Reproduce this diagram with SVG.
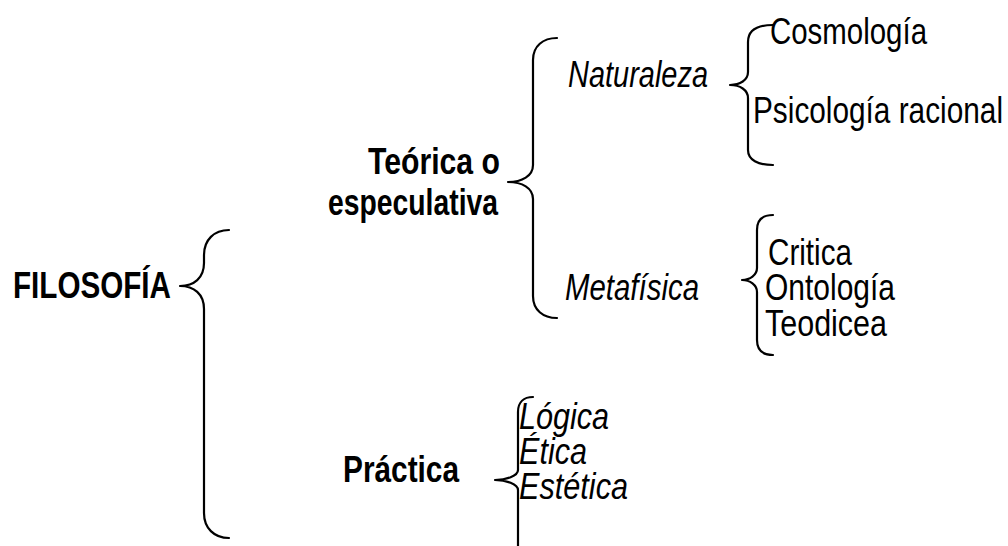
<svg xmlns="http://www.w3.org/2000/svg" width="1008" height="546" viewBox="0 0 1008 546">
<style>
.t{font-family:"Liberation Sans Narrow","Liberation Sans",Arial,sans-serif;font-size:36px;fill:#000}
.b{font-weight:bold}
.i{font-style:italic}
.br{fill:none;stroke:#000;stroke-width:2.2;stroke-linecap:round;stroke-linejoin:round}
</style>
<rect width="1008" height="546" fill="#fff"/>
<g id="connectors">
<path class="br" d="M229,230 C214,230 204,240 204,255 L204,263 C204,278 194,286 180,286 C194,286 204,294 204,309 L204,513 C204,528 214,538 229,538"/>
<path class="br" d="M557,38 C543,38 533,46 533,60 L533,165 C533,176 522,182 508,182 C522,182 533,188 533,199 L533,296 C533,310 543,318 557,318"/>
<path class="br" d="M773,25 C758,25 748,30 748,42 L748,72 C748,80 740,85 730,85 C740,85 748,90 748,98 L748,150 C748,160 758,165 773,165"/>
<path class="br" d="M773,215 C763,215 757,220 757,230 L757,268 C757,275 750,280 742,280 C750,280 757,285 757,292 L757,340 C757,350 763,355 773,355"/>
<path class="br" d="M533,397 C524,397 518,402 518,412 L518,470 C518,476 506,480 495,480 C506,480 518,484 518,490 L518,546"/>
</g>
<g id="filosofia"><text class="t b" x="13" y="298" textLength="158" lengthAdjust="spacingAndGlyphs">FILOSOFÍA</text></g>
<g id="teorica">
<text class="t b" x="368" y="174" textLength="132" lengthAdjust="spacingAndGlyphs">Teórica o</text>
<text class="t b" x="328" y="215" textLength="170" lengthAdjust="spacingAndGlyphs">especulativa</text>
</g>
<g id="practica"><text class="t b" x="343" y="482" textLength="116" lengthAdjust="spacingAndGlyphs">Práctica</text></g>
<g id="naturaleza"><text class="t i" x="568" y="87" textLength="140" lengthAdjust="spacingAndGlyphs">Naturaleza</text></g>
<g id="metafisica"><text class="t i" x="565" y="300" textLength="134" lengthAdjust="spacingAndGlyphs">Metafísica</text></g>
<g id="cosmologia"><text class="t" x="770" y="44" textLength="157" lengthAdjust="spacingAndGlyphs">Cosmología</text></g>
<g id="psicologia"><text class="t" x="753" y="123" textLength="250" lengthAdjust="spacingAndGlyphs">Psicología racional</text></g>
<g id="critica"><text class="t" x="768" y="265" textLength="84" lengthAdjust="spacingAndGlyphs">Critica</text></g>
<g id="ontologia"><text class="t" x="765" y="300" textLength="130" lengthAdjust="spacingAndGlyphs">Ontología</text></g>
<g id="teodicea"><text class="t" x="765" y="336" textLength="122" lengthAdjust="spacingAndGlyphs">Teodicea</text></g>
<g id="logica"><text class="t i" x="519" y="429" textLength="90" lengthAdjust="spacingAndGlyphs">Lógica</text></g>
<g id="etica"><text class="t i" x="519" y="464" textLength="68" lengthAdjust="spacingAndGlyphs">Ética</text></g>
<g id="estetica"><text class="t i" x="519" y="499" textLength="109" lengthAdjust="spacingAndGlyphs">Estética</text></g>
</svg>
